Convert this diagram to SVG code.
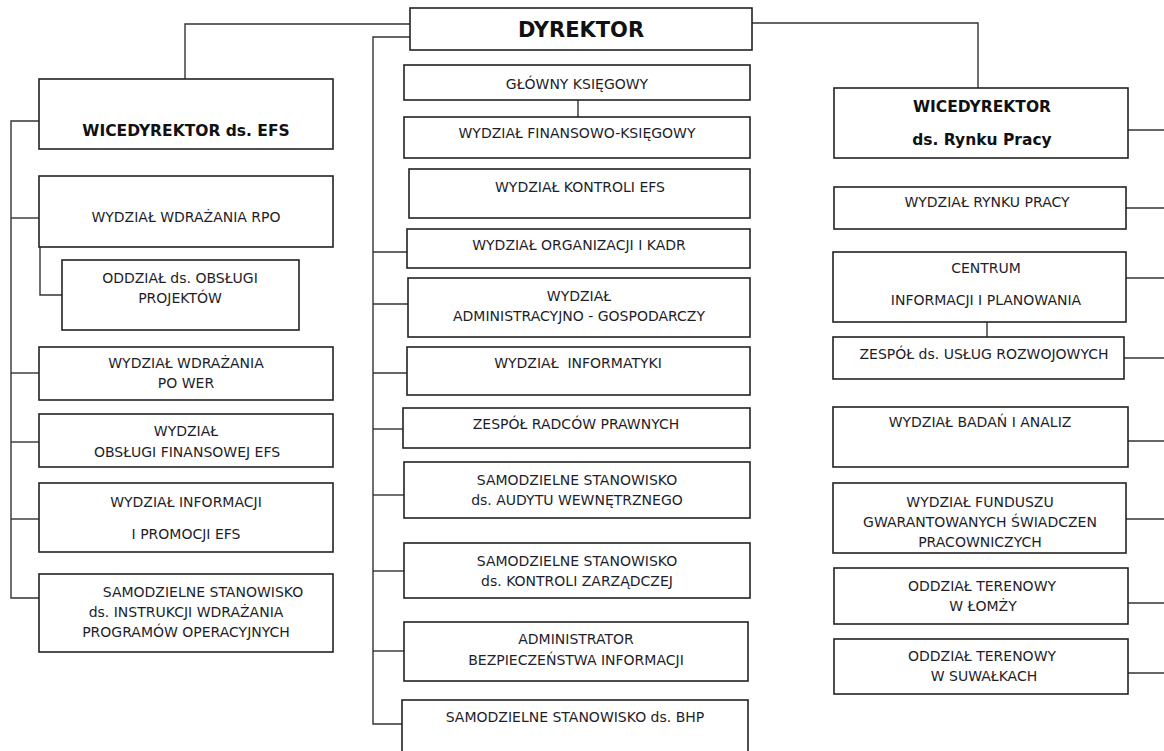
<svg xmlns="http://www.w3.org/2000/svg" width="1164" height="751" viewBox="0 0 1164 751">
<style>
.b{fill:#fff;stroke:#222;stroke-width:1.6}
.t{font-family:"DejaVu Sans",Verdana,sans-serif;font-size:14px;fill:#1e1e2a;text-anchor:middle}
.h{font-family:"DejaVu Sans",Verdana,sans-serif;font-size:15.5px;font-weight:bold;fill:#111;text-anchor:middle}
.c{fill:none;stroke:#333;stroke-width:1.4}
</style>
<rect width="1164" height="751" fill="#fff"/>
<g id="connectors">
<polyline class="c" points="410,24 185,24 185,79"/>
<polyline class="c" points="410,37 373,37 373,724 402,724"/>
<polyline class="c" points="752,23 978,23 978,88"/>
<polyline class="c" points="39,121 11,121 11,598 39,598"/>
<line class="c" x1="11" y1="218" x2="39" y2="218"/>
<polyline class="c" points="40,247 40,295 62,295"/>
<line class="c" x1="11" y1="373" x2="39" y2="373"/>
<line class="c" x1="11" y1="442" x2="39" y2="442"/>
<line class="c" x1="11" y1="519" x2="39" y2="519"/>
<line class="c" x1="578" y1="100" x2="578" y2="117"/>
<line class="c" x1="373" y1="252" x2="407" y2="252"/>
<line class="c" x1="373" y1="304" x2="408" y2="304"/>
<line class="c" x1="373" y1="373" x2="407" y2="373"/>
<line class="c" x1="373" y1="429" x2="403" y2="429"/>
<line class="c" x1="373" y1="495" x2="404" y2="495"/>
<line class="c" x1="373" y1="571" x2="404" y2="571"/>
<line class="c" x1="373" y1="651" x2="404" y2="651"/>
<line class="c" x1="1128" y1="130" x2="1164" y2="130"/>
<line class="c" x1="1126" y1="208" x2="1164" y2="208"/>
<line class="c" x1="1126" y1="278" x2="1164" y2="278"/>
<line class="c" x1="987" y1="322" x2="987" y2="337"/>
<line class="c" x1="1124" y1="358" x2="1164" y2="358"/>
<line class="c" x1="1128" y1="441" x2="1164" y2="441"/>
<line class="c" x1="1126" y1="519" x2="1164" y2="519"/>
<line class="c" x1="1128" y1="603" x2="1164" y2="603"/>
<line class="c" x1="1128" y1="673" x2="1164" y2="673"/>
</g>
<g id="dyrektor"><rect class="b" x="410" y="8" width="342" height="42"/><text class="h" x="581" y="37" style="font-size:21px">DYREKTOR</text></g>
<g id="wice-efs"><rect class="b" x="39" y="79" width="294" height="70"/><text class="h" x="186" y="136">WICEDYREKTOR ds. EFS</text></g>
<g id="rpo"><rect class="b" x="39" y="176" width="294" height="71"/><text class="t" x="186" y="222">WYDZIAŁ WDRAŻANIA RPO</text></g>
<g id="oddzial-projektow"><rect class="b" x="62" y="260" width="237" height="70"/><text class="t" x="180" y="283">ODDZIAŁ ds. OBSŁUGI</text><text class="t" x="180" y="303">PROJEKTÓW</text></g>
<g id="po-wer"><rect class="b" x="39" y="347" width="294" height="53"/><text class="t" x="186" y="368">WYDZIAŁ WDRAŻANIA</text><text class="t" x="186" y="388">PO WER</text></g>
<g id="fin-efs"><rect class="b" x="39" y="414" width="294" height="53"/><text class="t" x="186" y="436">WYDZIAŁ</text><text class="t" x="187" y="457">OBSŁUGI FINANSOWEJ EFS</text></g>
<g id="promocja"><rect class="b" x="39" y="483" width="294" height="69"/><text class="t" x="186" y="507">WYDZIAŁ INFORMACJI</text><text class="t" x="186" y="539">I PROMOCJI EFS</text></g>
<g id="instrukcje"><rect class="b" x="39" y="574" width="294" height="78"/><text class="t" x="203" y="597">SAMODZIELNE STANOWISKO</text><text class="t" x="186" y="617">ds. INSTRUKCJI WDRAŻANIA</text><text class="t" x="186" y="637">PROGRAMÓW OPERACYJNYCH</text></g>
<g id="ksiegowy"><rect class="b" x="404" y="65" width="346" height="35"/><text class="t" x="577" y="89">GŁÓWNY KSIĘGOWY</text></g>
<g id="fin-ksieg"><rect class="b" x="404" y="117" width="346" height="41"/><text class="t" x="577" y="138">WYDZIAŁ FINANSOWO-KSIĘGOWY</text></g>
<g id="kontrola-efs"><rect class="b" x="409" y="169" width="341" height="49"/><text class="t" x="580" y="192">WYDZIAŁ KONTROLI EFS</text></g>
<g id="kadry"><rect class="b" x="407" y="229" width="343" height="39"/><text class="t" x="579" y="250">WYDZIAŁ ORGANIZACJI I KADR</text></g>
<g id="admin"><rect class="b" x="408" y="278" width="342" height="59"/><text class="t" x="579" y="301">WYDZIAŁ</text><text class="t" x="579" y="321">ADMINISTRACYJNO - GOSPODARCZY</text></g>
<g id="informatyka"><rect class="b" x="407" y="347" width="343" height="48"/><text class="t" x="578" y="368" xml:space="preserve">WYDZIAŁ  INFORMATYKI</text></g>
<g id="radcy"><rect class="b" x="403" y="408" width="347" height="40"/><text class="t" x="576" y="429">ZESPÓŁ RADCÓW PRAWNYCH</text></g>
<g id="audyt"><rect class="b" x="404" y="462" width="346" height="56"/><text class="t" x="577" y="485">SAMODZIELNE STANOWISKO</text><text class="t" x="577" y="505">ds. AUDYTU WEWNĘTRZNEGO</text></g>
<g id="kontrola-zarz"><rect class="b" x="404" y="543" width="346" height="55"/><text class="t" x="577" y="566">SAMODZIELNE STANOWISKO</text><text class="t" x="577" y="586">ds. KONTROLI ZARZĄDCZEJ</text></g>
<g id="abi"><rect class="b" x="404" y="622" width="344" height="59"/><text class="t" x="576" y="644">ADMINISTRATOR</text><text class="t" x="576" y="665">BEZPIECZEŃSTWA INFORMACJI</text></g>
<g id="bhp"><rect class="b" x="402" y="700" width="346" height="60"/><text class="t" x="575" y="722">SAMODZIELNE STANOWISKO ds. BHP</text></g>
<g id="wice-rp"><rect class="b" x="834" y="88" width="294" height="70"/><text class="h" x="982" y="112">WICEDYREKTOR</text><text class="h" x="982" y="145">ds. Rynku Pracy</text></g>
<g id="rynek"><rect class="b" x="834" y="187" width="292" height="42"/><text class="t" x="987" y="207">WYDZIAŁ RYNKU PRACY</text></g>
<g id="centrum"><rect class="b" x="833" y="252" width="293" height="70"/><text class="t" x="986" y="273">CENTRUM</text><text class="t" x="986" y="305">INFORMACJI I PLANOWANIA</text></g>
<g id="uslugi"><rect class="b" x="833" y="337" width="291" height="42"/><text class="t" x="984" y="359">ZESPÓŁ ds. USŁUG ROZWOJOWYCH</text></g>
<g id="badania"><rect class="b" x="833" y="407" width="295" height="60"/><text class="t" x="980" y="427">WYDZIAŁ BADAŃ I ANALIZ</text></g>
<g id="fgsp"><rect class="b" x="833" y="483" width="293" height="70"/><text class="t" x="980" y="507">WYDZIAŁ FUNDUSZU</text><text class="t" x="980" y="527">GWARANTOWANYCH ŚWIADCZEN</text><text class="t" x="980" y="547">PRACOWNICZYCH</text></g>
<g id="lomza"><rect class="b" x="834" y="568" width="294" height="56"/><text class="t" x="982" y="591">ODDZIAŁ TERENOWY</text><text class="t" x="983" y="611">W ŁOMŻY</text></g>
<g id="suwalki"><rect class="b" x="834" y="639" width="294" height="55"/><text class="t" x="982" y="661">ODDZIAŁ TERENOWY</text><text class="t" x="984" y="681">W SUWAŁKACH</text></g>
</svg>
